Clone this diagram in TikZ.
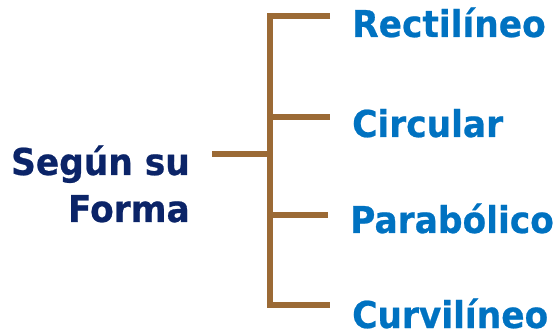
\documentclass[tikz,border=0pt]{standalone}
\usepackage{fontspec}
\newfontfamily\diagfont[FakeStretch=0.93,FakeBold=0.6]{DejaVu Sans Bold}
\definecolor{brace}{HTML}{9B6A35}
\definecolor{itemblue}{HTML}{0072C1}
\definecolor{navy}{HTML}{0B2468}
\begin{document}
\begin{tikzpicture}[x=1pt,y=-1pt,
  conn/.style={draw=brace,line width=5.5pt},
  item/.style={anchor=base west,inner sep=0pt,text=itemblue,font=\diagfont\fontsize{37}{40}\selectfont},
  head/.style={anchor=base east,inner sep=0pt,text=navy,font=\diagfont\fontsize{37}{40}\selectfont}]
\useasboundingbox (0,0) rectangle (560,331);
\node[head] (h1) at (190,175) {Según su};
\node[head] (h2) at (190,222) {Forma};
\node[item] (r) at (352,37) {Rectilíneo};
\node[item] (c) at (352,137) {Circular};
\node[item] (p) at (350,233) {Parabólico};
\node[item] (v) at (352,328) {Curvilíneo};
\coordinate (in) at (212,154);
\coordinate (j) at (270,154);
\coordinate (top) at (270,16);
\coordinate (bot) at (270,305);
\coordinate (e1) at (330,16);
\coordinate (e2) at (330,117);
\coordinate (e3) at (328,215);
\coordinate (e4) at (330,305);
\draw[conn] (e1) -- (top) -- (bot) -- (e4);
\draw[conn] (in) -- (j);
\draw[conn] (270,117) -- (e2);
\draw[conn] (270,215) -- (e3);
\end{tikzpicture}
\end{document}
